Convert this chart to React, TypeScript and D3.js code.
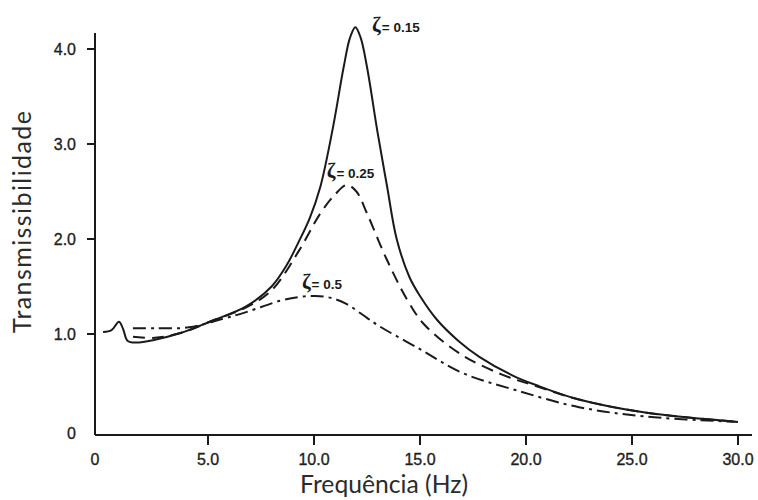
import React from "react";
import * as d3 from "d3";

// ---- data ----
const xTickValues = [0, 5, 10, 15, 20, 25, 30];
const xTickLabels = ["0", "5.0", "10.0", "15.0", "20.0", "25.0", "30.0"];
const yTickValues = [0, 1, 2, 3, 4];
const yTickLabels = ["0", "1.0", "2.0", "3.0", "4.0"];

const freqZ015 = [0.05, 0.45, 0.8, 1.0, 1.2, 1.6, 2.5, 3.7, 5.2, 6.8, 8.0, 8.7, 9.3, 9.8, 10.3, 10.9, 11.4, 11.7, 11.95, 12.2, 12.5, 13.0, 13.45, 13.9, 14.5, 15.0, 15.8, 16.8, 17.8, 19.4, 20.5, 22.5, 25.7, 30.0];
const valZ015 = [1.02, 1.04, 1.13, 1.05, 0.93, 0.91, 0.94, 1.01, 1.14, 1.29, 1.5, 1.72, 1.98, 2.22, 2.55, 3.18, 3.81, 4.12, 4.23, 4.12, 3.81, 3.12, 2.55, 2.0, 1.6, 1.4, 1.15, 0.93, 0.76, 0.56, 0.46, 0.31, 0.17, 0.075];

const freqZ025 = [1.46, 2.5, 3.7, 5.2, 6.8, 8.0, 9.3, 10.3, 11.0, 11.55, 12.0, 12.5, 13.4, 14.4, 15.2, 16.9, 18.9, 20.5, 22.5, 25.7, 30.0];
const valZ025 = [0.97, 0.96, 1.01, 1.14, 1.28, 1.46, 1.88, 2.27, 2.47, 2.57, 2.5, 2.27, 1.8, 1.36, 1.1, 0.79, 0.57, 0.45, 0.31, 0.17, 0.075];

const freqZ05 = [1.46, 2.5, 4.1, 5.7, 6.8, 8.4, 9.3, 10.05, 10.8, 11.5, 12.5, 13.1, 15.0, 17.0, 19.5, 22.5, 25.7, 30.0];
const valZ05 = [1.06, 1.06, 1.07, 1.16, 1.23, 1.35, 1.39, 1.4, 1.38, 1.32, 1.17, 1.08, 0.84, 0.59, 0.41, 0.23, 0.13, 0.075];

const seriesLabels = ["0.15", "0.25", "0.5"];
const labelFreq = [12.74, 10.6, 9.43];
const labelVal = [4.18, 2.64, 1.47];

export default function App() {
  const W = 758;
  const H = 500;
  const x = d3.scaleLinear().domain([0, 30]).range([102, 738]);
  const y = d3.scaleLinear().domain([0, 4]).range([429, 49]);
  const axisX = 95;
  const axisY = 435;

  const line = d3
    .line<[number, number]>()
    .x((d) => x(d[0]))
    .y((d) => y(d[1]))
    .curve(d3.curveCatmullRom.alpha(0.5));

  const series = [
    { f: freqZ015, v: valZ015, dash: undefined as string | undefined },
    { f: freqZ025, v: valZ025, dash: "12,7" },
    { f: freqZ05, v: valZ05, dash: "13,5,3,5" },
  ];

  const ink = "#1a1a1a";
  const tickFont = "'Liberation Sans', Arial, sans-serif";
  const titleFont = "Lato, 'Open Sans', sans-serif";

  return (
    <svg
      width={W}
      height={H}
      viewBox={`0 0 ${W} ${H}`}
      style={{ position: "absolute", left: 0, top: 0, background: "#fff" }}
    >
      <rect x={0} y={0} width={W} height={H} fill="#fff" />
      {/* axes */}
      <line x1={axisX} y1={33} x2={axisX} y2={axisY} stroke={ink} strokeWidth={2} />
      <line x1={axisX} y1={axisY} x2={752} y2={axisY} stroke={ink} strokeWidth={2} />

      {xTickValues.map((t, i) => (
        <g key={"xt" + i}>
          {t !== 0 && (
            <line x1={x(t)} x2={x(t)} y1={axisY} y2={axisY + 10} stroke={ink} strokeWidth={2} />
          )}
          <text
            x={x(t) - (t === 0 ? 7 : 0)}
            y={465}
            textAnchor="middle"
            fontFamily={tickFont}
            fontSize={16}
            fill="#1e1e1e"
            stroke="#1e1e1e"
            strokeWidth={0.35}
          >
            {xTickLabels[i]}
          </text>
        </g>
      ))}

      {yTickValues.map((t, i) => (
        <g key={"yt" + i}>
          {t !== 0 && (
            <line x1={axisX - 8} x2={axisX} y1={y(t)} y2={y(t)} stroke={ink} strokeWidth={2} />
          )}
          <text
            x={76}
            y={(t === 0 ? y(t) + 4 : y(t)) + 6}
            textAnchor="end"
            fontFamily={tickFont}
            fontSize={16}
            fill="#1e1e1e"
            stroke="#1e1e1e"
            strokeWidth={0.35}
          >
            {yTickLabels[i]}
          </text>
        </g>
      ))}

      {/* curves */}
      {series.map((s, i) => (
        <path
          key={"s" + i}
          d={line(s.f.map((f, j) => [f, s.v[j]] as [number, number])) || ""}
          fill="none"
          stroke={ink}
          strokeWidth={2}
          strokeDasharray={s.dash}
          strokeLinejoin="round"
        />
      ))}

      {/* annotations */}
      {seriesLabels.map((lab, i) => (
        <text key={"lab" + i} x={x(labelFreq[i])} y={y(labelVal[i])} fill="#1a1a1a">
          <tspan
            fontFamily="'Liberation Serif', 'DejaVu Serif', serif"
            fontWeight="bold"
            fontSize={21}
          >
            ζ
          </tspan>
          <tspan fontFamily={tickFont} fontWeight="bold" fontSize={13.5} dx={1}>
            = {lab}
          </tspan>
        </text>
      ))}

      {/* axis titles */}
      <text
        x={384}
        y={493}
        textAnchor="middle"
        fontFamily={titleFont}
        fontSize={25}
        fill="#2b2b2b"
        textLength={168}
        lengthAdjust="spacingAndGlyphs"
      >
        Frequência (Hz)
      </text>
      <text
        transform="translate(31,222) rotate(-90)"
        textAnchor="middle"
        fontFamily={titleFont}
        fontSize={25}
        fill="#2b2b2b"
        textLength={222}
        lengthAdjust="spacing"
      >
        Transmissibilidade
      </text>
    </svg>
  );
}
